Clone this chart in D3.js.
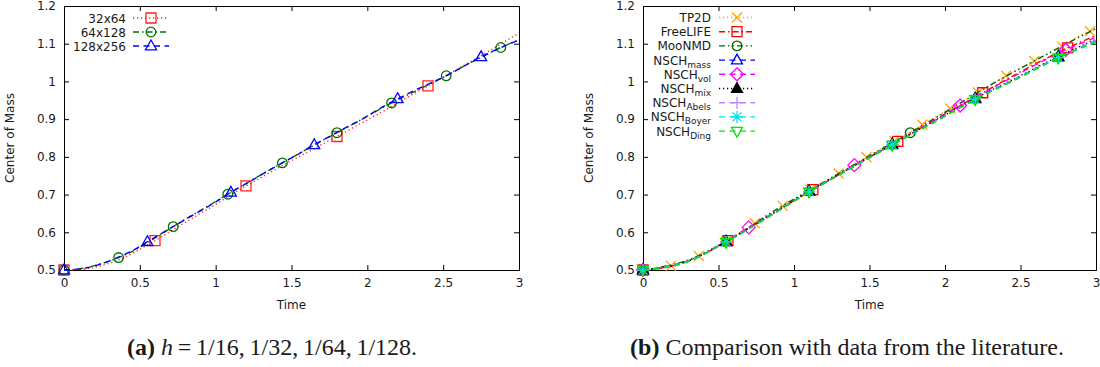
<!DOCTYPE html>
<html>
<head>
<meta charset="utf-8">
<script src="https://cdn.jsdelivr.net/npm/d3@7"></script>
<style>
  body { margin: 0; background: #fff; }
  text { font-family: "DejaVu Sans", sans-serif; fill: #1a1a1a; }
  .cap { font-family: "Liberation Serif", "Times New Roman", serif; }
</style>
</head>
<body>
<script>
// ---- panel (a): mesh refinement ----
const t32 = [0, 0.1, 0.2, 0.3, 0.4, 0.5, 0.6, 0.7, 0.8, 0.9, 1.0, 1.1, 1.2, 1.3, 1.4, 1.5,
  1.6, 1.7, 1.8, 1.9, 2.0, 2.1, 2.2, 2.3, 2.4, 2.5, 2.6, 2.7, 2.8, 2.9, 3.0];
const v32 = [0.500, 0.501, 0.507, 0.518, 0.534, 0.555, 0.578, 0.602, 0.626, 0.650, 0.674,
  0.699, 0.723, 0.745, 0.768, 0.790, 0.811, 0.833, 0.854, 0.876, 0.898, 0.920, 0.943,
  0.966, 0.988, 1.011, 1.034, 1.057, 1.080, 1.104, 1.128];

const t64 = [0, 0.12, 0.24, 0.36, 0.48, 0.60, 0.72, 0.84, 0.96, 1.08, 1.20, 1.32, 1.44,
  1.56, 1.68, 1.80, 1.92, 2.04, 2.16, 2.28, 2.40, 2.52, 2.64, 2.76, 2.88, 3.00];
const v64 = [0.500, 0.504, 0.516, 0.533, 0.556, 0.585, 0.615, 0.644, 0.672, 0.701, 0.729,
  0.757, 0.784, 0.811, 0.838, 0.864, 0.890, 0.917, 0.943, 0.967, 0.991, 1.015, 1.041,
  1.066, 1.090, 1.110];

const t128 = [0, 0.11, 0.22, 0.33, 0.44, 0.55, 0.66, 0.77, 0.88, 0.99, 1.10, 1.21, 1.32,
  1.43, 1.54, 1.65, 1.76, 1.87, 1.98, 2.09, 2.20, 2.31, 2.42, 2.53, 2.64, 2.75, 2.86, 2.97, 3.0];
const v128 = [0.500, 0.503, 0.513, 0.529, 0.549, 0.575, 0.601, 0.627, 0.652, 0.678, 0.706,
  0.731, 0.757, 0.782, 0.806, 0.832, 0.856, 0.880, 0.903, 0.930, 0.954, 0.976, 0.996,
  1.017, 1.041, 1.065, 1.086, 1.105, 1.110];

// ---- panel (b): literature ----
const tTP2D = [0, 0.185, 0.37, 0.555, 0.74, 0.925, 1.11, 1.295, 1.48, 1.665, 1.85, 2.035,
  2.22, 2.405, 2.59, 2.775, 2.96, 3.0];
const vTP2D = [0.500, 0.511, 0.537, 0.578, 0.624, 0.670, 0.713, 0.756, 0.799, 0.842, 0.885,
  0.928, 0.971, 1.015, 1.054, 1.093, 1.133, 1.137];

const tFree = [0, 0.1875, 0.375, 0.5625, 0.75, 0.9375, 1.125, 1.3125, 1.5, 1.6875, 1.875,
  2.0625, 2.25, 2.4375, 2.625, 2.8125, 3.0];
const vFree = [0.500, 0.510, 0.537, 0.578, 0.623, 0.669, 0.713, 0.756, 0.799, 0.841, 0.885,
  0.928, 0.970, 1.012, 1.052, 1.089, 1.122];

const tMoon = [0, 0.295, 0.59, 0.885, 1.18, 1.475, 1.77, 2.065, 2.36, 2.655, 2.95, 3.0];
const vMoon = [0.500, 0.526, 0.585, 0.661, 0.729, 0.797, 0.864, 0.934, 1.004, 1.068, 1.130, 1.140];

const tNSCH = [0, 0.275, 0.55, 0.825, 1.1, 1.375, 1.65, 1.925, 2.2, 2.475, 2.75, 3.0];
const vMass  = [0.500, 0.520, 0.575, 0.640, 0.708, 0.770, 0.832, 0.892, 0.954, 1.008, 1.064, 1.108];
const vMix   = [0.500, 0.520, 0.576, 0.641, 0.709, 0.771, 0.833, 0.894, 0.955, 1.010, 1.066, 1.112];
const vAbels = [0.500, 0.519, 0.574, 0.639, 0.707, 0.769, 0.831, 0.891, 0.953, 1.007, 1.063, 1.110];
const vBoyer = [0.500, 0.520, 0.575, 0.640, 0.708, 0.770, 0.832, 0.892, 0.953, 1.008, 1.063, 1.106];
const vDing  = [0.500, 0.519, 0.574, 0.639, 0.707, 0.769, 0.831, 0.891, 0.952, 1.006, 1.062, 1.104];

const tVol = [0, 0.35, 0.7, 1.05, 1.4, 1.75, 2.1, 2.45, 2.8, 3.0];
const vVol = [0.500, 0.532, 0.613, 0.694, 0.778, 0.856, 0.936, 1.012, 1.084, 1.117];

const xTicks = [0, 0.5, 1, 1.5, 2, 2.5, 3];
const yTicks = [0.5, 0.6, 0.7, 0.8, 0.9, 1.0, 1.1, 1.2];

const DOT = '1.2,2.8', DASH = '6,4.5', DASHDOT = '6,3,1.5,3', DASHDOTDOT = '6,3,1.5,3,1.5,3';

const seriesA = [
  { name: '32x64', t: t32, v: v32, color: '#ff2020', dash: DOT, mark: 'square', every: 6 },
  { name: '64x128', t: t64, v: v64, color: '#007000', dash: DASHDOT, mark: 'circle', every: 3 },
  { name: '128x256', t: t128, v: v128, color: '#0000ff', dash: DASH, mark: 'tri', every: 5 }
];
const seriesB = [
  { name: 'TP2D', t: tTP2D, v: vTP2D, color: '#ffa500', dash: DOT, mark: 'x', every: 1 },
  { name: 'FreeLIFE', t: tFree, v: vFree, color: '#ff0000', dash: DASHDOT, mark: 'square', every: 3 },
  { name: 'MooNMD', t: tMoon, v: vMoon, color: '#006400', dash: DASHDOTDOT, mark: 'circle', every: 6 },
  { name: 'NSCH', sub: 'mass', t: tNSCH, v: vMass, color: '#0000ff', dash: DASH, mark: 'tri', every: 2 },
  { name: 'NSCH', sub: 'vol', t: tVol, v: vVol, color: '#ff00ff', dash: DASH, mark: 'diamond', every: 2 },
  { name: 'NSCH', sub: 'mix', t: tNSCH, v: vMix, color: '#000000', dash: DOT, mark: 'trifill', every: 2 },
  { name: 'NSCH', sub: 'Abels', t: tNSCH, v: vAbels, color: '#c080ff', dash: DASH, mark: 'plus', every: 2 },
  { name: 'NSCH', sub: 'Boyer', t: tNSCH, v: vBoyer, color: '#00e0f0', dash: DASH, mark: 'star', every: 2 },
  { name: 'NSCH', sub: 'Ding', t: tNSCH, v: vDing, color: '#00e600', dash: DASH, mark: 'tridown', every: 2 }
];

const W = 1100, H = 367;
const yTop = 6, yBot = 270;

const svg = d3.select('body').append('svg')
  .attr('width', W).attr('height', H);

function drawMark(g, type, x, y, color) {
  const s = 5;
  let d;
  if (type === 'circle') {
    g.append('circle').attr('cx', x).attr('cy', y).attr('r', 4.8)
      .attr('fill', 'none').attr('stroke', color).attr('stroke-width', 1.3);
    return;
  }
  if (type === 'square') d = `M${x - s},${y - s}h${2 * s}v${2 * s}h${-2 * s}Z`;
  if (type === 'tri' || type === 'trifill') d = `M${x},${y - 6}L${x + 5.5},${y + 3.8}L${x - 5.5},${y + 3.8}Z`;
  if (type === 'tridown') d = `M${x},${y + 6}L${x + 5.5},${y - 3.8}L${x - 5.5},${y - 3.8}Z`;
  if (type === 'diamond') d = `M${x},${y - 6.5}L${x + 6.5},${y}L${x},${y + 6.5}L${x - 6.5},${y}Z`;
  if (type === 'x') d = `M${x - s},${y - s}L${x + s},${y + s}M${x - s},${y + s}L${x + s},${y - s}`;
  if (type === 'plus') d = `M${x - 6},${y}H${x + 6}M${x},${y - 6}V${y + 6}`;
  if (type === 'star') d = `M${x - 6},${y}H${x + 6}M${x},${y - 6}V${y + 6}M${x - 4.5},${y - 4.5}L${x + 4.5},${y + 4.5}M${x - 4.5},${y + 4.5}L${x + 4.5},${y - 4.5}`;
  g.append('path').attr('d', d)
    .attr('fill', type === 'trifill' ? color : 'none')
    .attr('stroke', color).attr('stroke-width', 1.3);
}

function panel(x0, x1, series, labelX, leg) {
  const x = d3.scaleLinear().domain([0, 3]).range([x0, x1]);
  const y = d3.scaleLinear().domain([0.5, 1.2]).range([yBot, yTop]);
  const g = svg.append('g');

  // axes with inward ticks on all sides
  const fmt = d => d3.format('')(+d.toFixed(1));
  g.append('g').attr('transform', `translate(0,${yBot})`)
    .call(d3.axisBottom(x).tickValues(xTicks).tickSize(-5).tickPadding(8).tickFormat(fmt));
  g.append('g').attr('transform', `translate(0,${yTop})`)
    .call(d3.axisTop(x).tickValues(xTicks).tickSize(-5).tickFormat(''));
  g.append('g').attr('transform', `translate(${x0},0)`)
    .call(d3.axisLeft(y).tickValues(yTicks).tickSize(-5).tickPadding(8).tickFormat(fmt));
  g.append('g').attr('transform', `translate(${x1},0)`)
    .call(d3.axisRight(y).tickValues(yTicks).tickSize(-5).tickFormat(''));
  g.selectAll('.domain').attr('stroke', '#000');
  g.selectAll('.tick line').attr('stroke', '#000');
  g.selectAll('.tick text').attr('font-size', 12).attr('font-family', 'DejaVu Sans').attr('fill', '#1a1a1a');

  g.append('text').attr('x', (x0 + x1) / 2).attr('y', 309).attr('text-anchor', 'middle')
    .attr('font-size', 12).text('Time');
  g.append('text').attr('transform', `translate(${labelX},138) rotate(-90)`)
    .attr('text-anchor', 'middle').attr('font-size', 12).text('Center of Mass');

  const line = d3.line().curve(d3.curveMonotoneX);
  series.forEach(s => {
    const pts = s.t.map((t, i) => [x(t), y(s.v[i])]);
    g.append('path').attr('d', line(pts)).attr('fill', 'none')
      .attr('stroke', s.color).attr('stroke-width', 1.4).attr('stroke-dasharray', s.dash);
    const mg = g.append('g');
    pts.forEach((p, i) => { if (i % s.every === 0 && s.t[i] < 2.99) drawMark(mg, s.mark, p[0], p[1], s.color); });
  });

  // legend
  series.forEach((s, i) => {
    const cy = leg.y0 + i * leg.dy;
    const tx = g.append('text').attr('x', leg.tx).attr('y', cy + 4.5)
      .attr('text-anchor', 'end').attr('font-size', 12).text(s.name);
    if (s.sub) tx.append('tspan').attr('font-size', 9).attr('dy', 3).text(s.sub);
    g.append('line').attr('x1', leg.l0).attr('x2', leg.l1).attr('y1', cy).attr('y2', cy)
      .attr('stroke', s.color).attr('stroke-width', 1.4).attr('stroke-dasharray', s.dash);
    drawMark(g, s.mark, (leg.l0 + leg.l1) / 2, cy, s.color);
  });
}

panel(64, 519, seriesA, 14, { y0: 18, dy: 14, tx: 126, l0: 133, l1: 169 });
panel(643, 1096, seriesB, 593, { y0: 17.5, dy: 14.2, tx: 711, l0: 719, l1: 755 });

// captions
const capA = svg.append('text').attr('class', 'cap').attr('x', 272).attr('y', 355)
  .attr('text-anchor', 'middle').attr('font-size', 24);
capA.append('tspan').attr('font-weight', 'bold').text('(a)');
capA.append('tspan').text(' ');
capA.append('tspan').attr('font-style', 'italic').text('h');
capA.append('tspan').text('\u2009=\u20091/16,\u20091/32,\u20091/64,\u20091/128.');

const capB = svg.append('text').attr('class', 'cap').attr('x', 847).attr('y', 355)
  .attr('text-anchor', 'middle').attr('font-size', 24);
capB.append('tspan').attr('font-weight', 'bold').text('(b)');
capB.append('tspan').text(' Comparison with data from the literature.');
</script>
</body>
</html>
